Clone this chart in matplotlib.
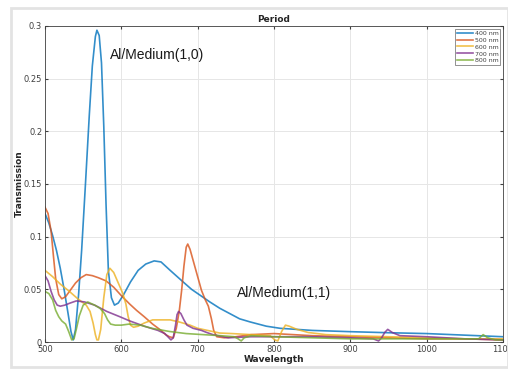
import matplotlib
matplotlib.use('Agg')
import matplotlib.pyplot as plt
from matplotlib.patches import Rectangle

# Data
wl_400 = [500, 505, 510, 515, 520, 525, 530, 534, 537, 540, 544, 548, 553, 558, 562, 566, 568, 571, 574, 577,
          580, 583, 587, 591, 596, 603, 612, 622, 632, 643, 652, 664, 681, 692, 700, 716, 729, 742, 755, 769,
          790, 808, 850, 900, 950, 1000, 1050, 1100]
t_400 = [0.122, 0.113, 0.101, 0.087, 0.070, 0.050, 0.028, 0.010, 0.002, 0.012, 0.045, 0.087, 0.150, 0.215, 0.262,
         0.290, 0.296, 0.291, 0.265, 0.205, 0.130, 0.068, 0.042, 0.035, 0.037, 0.045, 0.057, 0.068, 0.074, 0.077,
         0.076, 0.068, 0.057, 0.050, 0.046, 0.038, 0.032, 0.027, 0.022, 0.019, 0.015, 0.013, 0.011, 0.0098, 0.0088,
         0.008, 0.0065, 0.005]

wl_500 = [500, 504, 508, 511, 514, 518, 522, 527, 533, 540, 547, 554, 562, 570, 580, 590, 600, 611, 620, 630, 641,
          652, 658, 663, 668, 672, 676, 679, 682, 685, 687, 690, 695, 700, 705, 710, 714, 718, 721, 725, 735, 750,
          770, 800, 850, 900, 950, 1000, 1050, 1100]
t_500 = [0.128, 0.122, 0.105, 0.082, 0.060, 0.045, 0.041, 0.043, 0.049, 0.056, 0.061, 0.064, 0.063, 0.061, 0.058,
         0.052, 0.044, 0.036, 0.030, 0.024, 0.017, 0.011, 0.007, 0.005, 0.004, 0.013, 0.030, 0.049, 0.072, 0.090,
         0.093, 0.088, 0.075, 0.062, 0.049, 0.040, 0.034, 0.022, 0.011, 0.005, 0.004, 0.005, 0.007, 0.008, 0.006,
         0.005, 0.004, 0.003, 0.003, 0.002]

wl_600 = [500, 510, 520, 532, 543, 554, 559, 563, 566, 568, 570, 573, 577, 581, 585, 590, 596, 602, 606, 609, 612,
          616, 622, 630, 641, 655, 664, 676, 690, 700, 729, 745, 770, 795, 801, 805, 810, 815, 820, 830, 845, 868,
          900, 950, 1000, 1050, 1100]
t_600 = [0.068, 0.062, 0.055, 0.048, 0.041, 0.035, 0.029, 0.018, 0.007, 0.002, 0.002, 0.012, 0.042, 0.064, 0.070,
         0.066, 0.056, 0.046, 0.036, 0.024, 0.016, 0.014, 0.015, 0.018, 0.021, 0.021, 0.021, 0.019, 0.016, 0.013,
         0.0085, 0.008, 0.007, 0.006, 0.002, 0.001, 0.010, 0.016, 0.015, 0.012, 0.009, 0.007, 0.006, 0.005, 0.004,
         0.003, 0.003]

wl_700 = [500, 504, 508, 512, 516, 520, 526, 533, 541, 552, 565, 581, 598, 611, 630, 648, 657, 661, 665, 668, 671,
          673, 675, 678, 682, 686, 694, 705, 712, 720, 740, 770, 800, 850, 900, 930, 937, 941, 945, 949, 955, 965,
          1000, 1050, 1100]
t_700 = [0.063, 0.058, 0.048, 0.040, 0.035, 0.034, 0.035, 0.037, 0.039, 0.038, 0.035, 0.029, 0.024, 0.020, 0.015,
         0.011, 0.008, 0.005, 0.002, 0.004, 0.016, 0.026, 0.029, 0.027, 0.021, 0.016, 0.013, 0.011, 0.009, 0.007,
         0.004, 0.005, 0.005, 0.005, 0.004, 0.003, 0.001, 0.004, 0.009, 0.012, 0.009, 0.006, 0.005, 0.003, 0.002]

wl_800 = [500, 505, 510, 514, 518, 522, 527, 531, 535, 538, 541, 545, 550, 556, 565, 572, 578, 582, 586, 592, 600,
          610, 625, 640, 663, 685, 707, 730, 748, 753, 757, 761, 770, 800, 850, 900, 950, 1000, 1050, 1068, 1074,
          1080, 1090, 1100]
t_800 = [0.048, 0.046, 0.040, 0.030, 0.024, 0.020, 0.017, 0.010, 0.002, 0.003, 0.012, 0.025, 0.035, 0.038, 0.035,
         0.032, 0.027, 0.021, 0.017, 0.016, 0.016, 0.017, 0.016, 0.013, 0.010, 0.008, 0.007, 0.006, 0.005, 0.003,
         0.001, 0.004, 0.006, 0.005, 0.004, 0.003, 0.003, 0.003, 0.003, 0.003, 0.007, 0.004, 0.002, 0.002]

labels = ['400 nm', '500 nm', '600 nm', '700 nm', '800 nm']
colors = ['#0072BD', '#D95319', '#EDB120', '#7E2F8E', '#77AC30']
series = [(wl_400, t_400), (wl_500, t_500), (wl_600, t_600), (wl_700, t_700), (wl_800, t_800)]

fig = plt.figure(figsize=(5.08, 3.69), dpi=100)
fig.patches.append(Rectangle((11 / 508, 2 / 369), 497 / 508, 359 / 369, transform=fig.transFigure,
                             fill=False, edgecolor='#e3e3e3', lw=2, zorder=0))
ax = fig.add_axes([45 / 508, 27 / 369, 458 / 508, 316 / 369])

for (x, y), c, lab in zip(series, colors, labels):
    ax.plot(x, y, color=c, lw=1.2, alpha=0.8, label=lab)

ax.set_xlim(500, 1100)
ax.set_ylim(0, 0.3)
ax.set_xticks([500, 600, 700, 800, 900, 1000, 1100])
ax.set_yticks([0, 0.05, 0.1, 0.15, 0.2, 0.25, 0.3])
ax.set_yticklabels(['0', '0.05', '0.1', '0.15', '0.2', '0.25', '0.3'])
ax.grid(True, color='#e6e6e6', lw=0.7)
ax.tick_params(labelsize=6, colors='#404040', length=2, direction='in', top=True, right=True, pad=2)
for s in ax.spines.values():
    s.set_color('#404040')
    s.set_linewidth(0.6)

ax.set_xlabel('Wavelength', fontsize=6.5, fontweight='bold', color='#262626', labelpad=1)
ax.set_ylabel('Transmission', fontsize=6.5, fontweight='bold', color='#262626')
ax.yaxis.set_label_coords(-0.046, 0.5)
ax.set_title('Period', fontsize=6.5, fontweight='bold', color='#262626', pad=3)

ax.text(585, 0.272, 'Al/Medium(1,0)', fontsize=10, family='Liberation Sans', va='center', color='#1a1a1a')
ax.text(752, 0.0465, 'Al/Medium(1,1)', fontsize=10, family='Liberation Sans', va='center', color='#1a1a1a')

leg = ax.legend(loc='upper right', fontsize=4.5, frameon=True, fancybox=False, handlelength=2.5,
                borderpad=0.3, labelspacing=0.25, handletextpad=0.3, borderaxespad=0.4)
leg.get_frame().set_edgecolor('#404040')
leg.get_frame().set_linewidth(0.5)
for t in leg.get_texts():
    t.set_color('#404040')

fig.savefig('out.png', dpi=100)
